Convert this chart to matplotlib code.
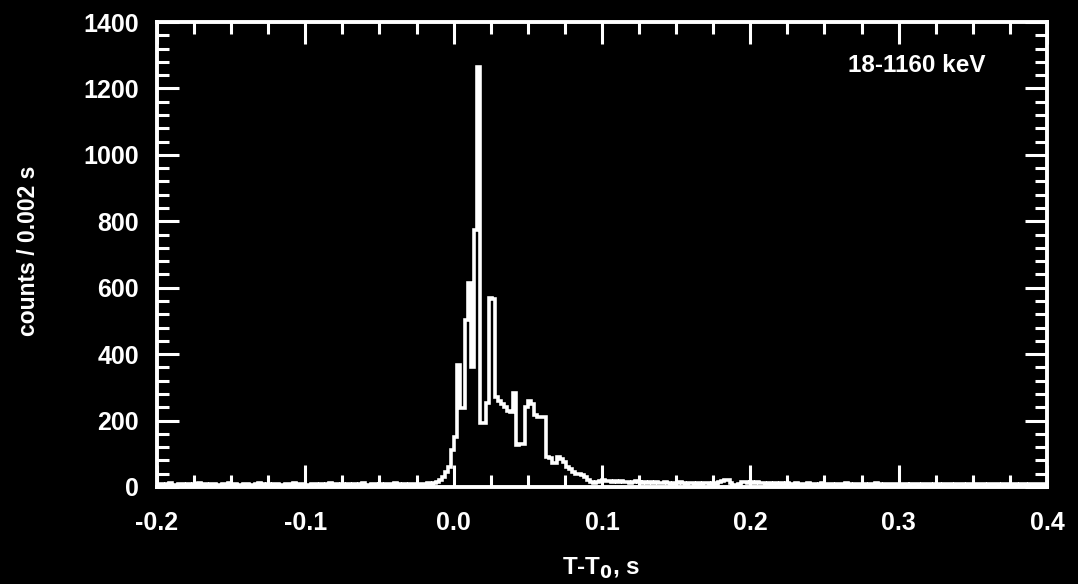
import matplotlib
matplotlib.use("Agg")
import matplotlib.pyplot as plt
import numpy as np
from matplotlib.ticker import MultipleLocator, FormatStrFormatter

# data: counts per 0.002 s bin, starting at T-T0 = -0.2 s
bin_width = 0.002
t_start = -0.2

# pre-burst background (-0.200 .. -0.010 s)
pre_counts = [
    7, 9, 6, 8, 11, 7, 5, 8, 10, 6,
    9, 7, 8, 6, 12, 7, 9, 5, 8, 10,
    6, 7, 9, 8, 11, 6, 8, 7, 5, 9,
    10, 7, 6, 8, 12, 8, 7, 9, 6, 8,
    10, 7, 5, 9, 8, 6, 11, 7, 8, 9,
    6, 7, 10, 8, 5, 9, 7, 8, 11, 6,
    9, 7, 8, 6, 10, 7, 9, 5, 8, 12,
    7, 6, 9, 8, 7, 10, 6, 8, 9, 7,
    11, 8, 6, 9, 7, 8, 10, 7, 9, 8,
    9, 11, 10, 13, 15,
]

# burst (-0.010 .. 0.096 s)
burst_counts = [
    20, 30, 45, 60, 110, 150, 367, 238, 238, 503,
    614, 362, 774, 1265, 192, 192, 253, 569, 565, 271,
    260, 250, 240, 228, 225, 283, 126, 130, 130, 241,
    260, 250, 217, 212, 212, 212, 90, 88, 72, 72,
    90, 85, 76, 60, 55, 45, 40, 40, 35, 30,
    20, 15, 12,
]

# post-burst background (0.096 .. 0.400 s)
post_counts = [
    14, 18, 20, 17, 19, 16, 18, 15, 17, 14,
    16, 13, 15, 17, 14, 12, 15, 13, 16, 12,
    14, 11, 13, 15, 12, 10, 13, 11, 14, 12,
    10, 13, 11, 9, 12, 10, 13, 11, 9, 12,
    10, 14, 18, 22, 20, 12, 6, 4, 8, 14,
    16, 13, 15, 12, 14, 11, 13, 10, 12, 9,
    11, 10, 12, 9, 11, 8, 10, 12, 9, 10,
    8, 11, 9, 10, 7, 9, 11, 8, 10, 9,
    7, 10, 8, 9, 11, 8, 7, 10, 9, 8,
    10, 7, 9, 8, 11, 9, 7, 8, 10, 9,
    8, 9, 7, 10, 8, 6, 9, 8, 10, 7,
    9, 8, 10, 7, 9, 8, 6, 9, 8, 10,
    7, 9, 8, 10, 6, 8, 9, 7, 10, 8,
    9, 7, 8, 10, 8, 9, 6, 8, 9, 7,
    8, 10, 7, 9, 8, 7, 9, 8, 10, 8,
    9, 7,
]

energy_label = "18-1160 keV"

counts = np.array(pre_counts + burst_counts + post_counts, dtype=float)
edges = t_start + bin_width * np.arange(len(counts) + 1)

plt.rcParams['font.family'] = ['Liberation Sans', 'DejaVu Sans']
plt.rcParams['font.weight'] = 'bold'
plt.rcParams['axes.unicode_minus'] = False

fig = plt.figure(figsize=(10.78, 5.84), dpi=100, facecolor='black')
ax = fig.add_axes([0.1456, 0.1661, 0.8256, 0.7962], facecolor='black')

ax.stairs(counts, edges, color='white', linewidth=2.6)

ax.set_xlim(-0.2, 0.4)
ax.set_ylim(0, 1400)

ax.xaxis.set_major_locator(MultipleLocator(0.1))
ax.xaxis.set_minor_locator(MultipleLocator(0.025))
ax.yaxis.set_major_locator(MultipleLocator(200))
ax.yaxis.set_minor_locator(MultipleLocator(40))
ax.xaxis.set_major_formatter(FormatStrFormatter('%.1f'))

for side in ax.spines.values():
    side.set_color('white')
    side.set_linewidth(2.8)

ax.tick_params(which='both', direction='in', top=True, right=True,
               colors='white', width=2.2)
ax.tick_params(which='major', length=16)
ax.tick_params(which='minor', length=8.5)
ax.tick_params(axis='x', which='major', labelsize=18, pad=17)
ax.tick_params(axis='y', which='major', labelsize=18, pad=13)
for lab in ax.get_xticklabels() + ax.get_yticklabels():
    lab.set_fontweight('bold')

ax.text(0.854, 0.907, energy_label, transform=ax.transAxes, color='white',
        fontsize=17.5, fontweight='bold', ha='center', va='center')

fig.text(0.5575, 0.027, "T-T$_\\mathbf{0}$, s", color='white', fontsize=17.5,
         fontweight='bold', ha='center', va='center')
fig.text(0.026, 0.57, "counts / 0.002 s", color='white', fontsize=16.5,
         fontweight='bold', rotation=90, ha='center', va='center')

fig.savefig("out.png", dpi=100, facecolor='black')
